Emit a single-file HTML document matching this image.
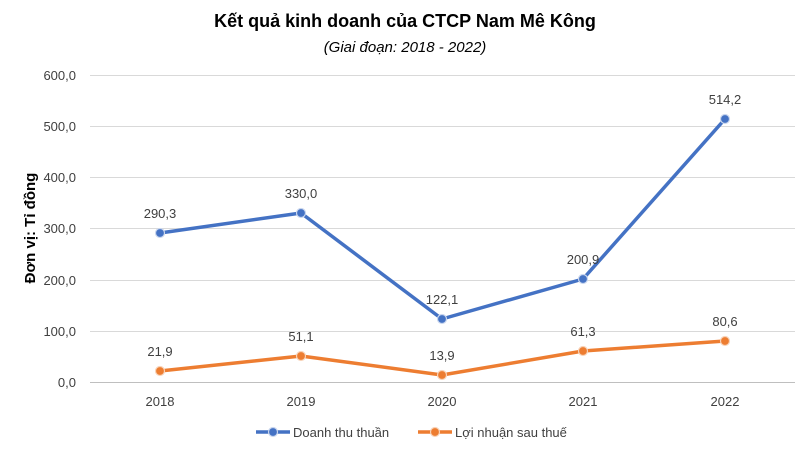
<!DOCTYPE html>
<html><head><meta charset="utf-8"><style>
body{margin:0;background:#fff;}
svg{display:block;font-family:"Liberation Sans",Arial,sans-serif;}
</style></head><body>
<svg width="810" height="454" viewBox="0 0 810 454" xmlns="http://www.w3.org/2000/svg">
<rect width="810" height="454" fill="#fff"/>
<text x="405" y="27" text-anchor="middle" font-size="18" font-weight="bold" fill="#000">Kết quả kinh doanh của CTCP Nam Mê Kông</text>
<text x="405" y="52" text-anchor="middle" font-size="15" font-style="italic" fill="#000">(Giai đoạn: 2018 - 2022)</text>
<g stroke="#d9d9d9" stroke-width="1">
<line x1="90" x2="795" y1="75.5" y2="75.5"/>
<line x1="90" x2="795" y1="126.5" y2="126.5"/>
<line x1="90" x2="795" y1="177.5" y2="177.5"/>
<line x1="90" x2="795" y1="228.5" y2="228.5"/>
<line x1="90" x2="795" y1="280.5" y2="280.5"/>
<line x1="90" x2="795" y1="331.5" y2="331.5"/>
<line x1="90" x2="795" y1="382.5" y2="382.5" stroke="#bfbfbf"/>
</g>
<g font-size="13" fill="#404040" text-anchor="end">
<text x="76" y="80">600,0</text>
<text x="76" y="131">500,0</text>
<text x="76" y="182">400,0</text>
<text x="76" y="233">300,0</text>
<text x="76" y="285">200,0</text>
<text x="76" y="336">100,0</text>
<text x="76" y="387">0,0</text>
</g>
<g font-size="13" fill="#404040" text-anchor="middle">
<text x="160" y="406">2018</text>
<text x="301" y="406">2019</text>
<text x="442" y="406">2020</text>
<text x="583" y="406">2021</text>
<text x="725" y="406">2022</text>
</g>
<text transform="translate(35,228) rotate(-90)" text-anchor="middle" font-size="15" font-weight="bold" fill="#000">Đơn vị: Tỉ đồng</text>
<polyline points="160,233 301,213 442,319 583,279 725,119" fill="none" stroke="#4472C4" stroke-width="3.5" stroke-linejoin="round"/>
<polyline points="160,371 301,356 442,375 583,351 725,341" fill="none" stroke="#ED7D31" stroke-width="3.5" stroke-linejoin="round"/>
<g fill="#4472C4" stroke="#c9d6ee" stroke-width="1.2">
<circle cx="160" cy="233" r="4.5"/><circle cx="301" cy="213" r="4.5"/><circle cx="442" cy="319" r="4.5"/><circle cx="583" cy="279" r="4.5"/><circle cx="725" cy="119" r="4.5"/>
</g>
<g fill="#ED7D31" stroke="#f8d3b8" stroke-width="1.2">
<circle cx="160" cy="371" r="4.5"/><circle cx="301" cy="356" r="4.5"/><circle cx="442" cy="375" r="4.5"/><circle cx="583" cy="351" r="4.5"/><circle cx="725" cy="341" r="4.5"/>
</g>
<g font-size="13" fill="#404040" text-anchor="middle">
<text x="160" y="218">290,3</text>
<text x="301" y="198">330,0</text>
<text x="442" y="304">122,1</text>
<text x="583" y="264">200,9</text>
<text x="725" y="104">514,2</text>
<text x="160" y="356">21,9</text>
<text x="301" y="341">51,1</text>
<text x="442" y="360">13,9</text>
<text x="583" y="336">61,3</text>
<text x="725" y="326">80,6</text>
</g>
<line x1="256" x2="290" y1="432" y2="432" stroke="#4472C4" stroke-width="3.5"/>
<circle cx="273" cy="432" r="4.5" fill="#4472C4" stroke="#c9d6ee" stroke-width="1.2"/>
<text x="293" y="437" font-size="13" fill="#404040">Doanh thu thuần</text>
<line x1="418" x2="452" y1="432" y2="432" stroke="#ED7D31" stroke-width="3.5"/>
<circle cx="435" cy="432" r="4.5" fill="#ED7D31" stroke="#f8d3b8" stroke-width="1.2"/>
<text x="455" y="437" font-size="13" fill="#404040">Lợi nhuận sau thuế</text>
</svg>
</body></html>
